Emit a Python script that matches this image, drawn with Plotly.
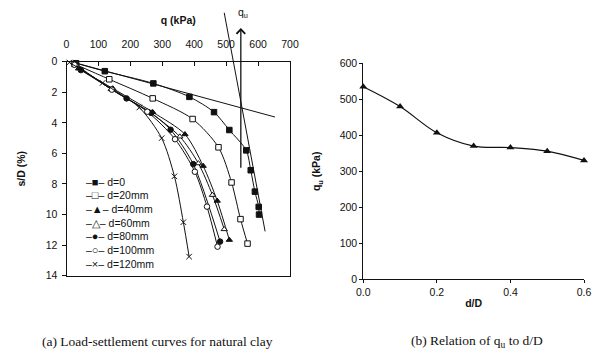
import plotly.graph_objects as go

W, H = 598, 358

# ---------------- (a) load-settlement data: q (kPa) vs s/D (%) ----------------
q_d0 = [30, 120, 272, 385, 462, 510, 563, 577, 590, 602, 603]
s_d0 = [0.1, 0.62, 1.42, 2.3, 3.3, 4.47, 5.8, 7.1, 8.5, 9.5, 10.0]
q_d20 = [25, 134, 270, 395, 476, 517, 545, 567]
s_d20 = [0.15, 1.15, 2.4, 3.75, 5.6, 7.9, 10.3, 11.9]
q_d40 = [38, 145, 270, 371, 428, 472, 510]
s_d40 = [0.45, 1.75, 3.3, 4.75, 6.82, 9.1, 11.66]
q_d60 = [30, 140, 260, 355, 413, 457, 494]
s_d60 = [0.2, 1.8, 3.3, 4.9, 6.65, 8.72, 10.96]
q_d80 = [45, 188, 265, 326, 397, 481]
s_d80 = [0.55, 2.4, 3.35, 4.45, 6.7, 11.77]
q_d100 = [25, 142, 253, 340, 402, 440, 473]
s_d100 = [0.2, 1.83, 3.27, 5.07, 7.2, 9.48, 12.1]
q_d120 = [9, 113, 228, 298, 338, 366, 384]
s_d120 = [0.05, 1.39, 3.0, 5.0, 7.5, 10.5, 12.75]

series_names = ["d=0", "d=20mm", "d=40mm", "d=60mm", "d=80mm", "d=100mm", "d=120mm"]
legend_glyphs = ["■", "□", "▲", "△", "●", "○", "×"]

# construction lines for q_u (tangent method)
tan1_q = [32, 653]
tan1_s = [0.1, 3.62]
tan2_q = [494, 622]
tan2_s = [-3.2, 11.1]
qu_q = 546
qu_s_from = 7.04
qu_s_to = -2.2
qu_label_s = -2.6

x_ticks_a = [0, 100, 200, 300, 400, 500, 600, 700]
y_ticks_a = [0, 2, 4, 6, 8, 10, 12, 14]

# ---------------- (b) q_u vs d/D ----------------
dD = [0.0, 0.1, 0.2, 0.3, 0.4, 0.5, 0.6]
qu = [535, 480, 407, 370, 366, 356, 330]
x_ticks_b = [0.0, 0.2, 0.4, 0.6]
y_ticks_b = [0, 100, 200, 300, 400, 500, 600]

caption_a = "(a) Load-settlement curves for natural clay"
caption_b = "(b) Relation of q<sub>u</sub> to d/D"

# ---------------- layout geometry (pixels -> paper) ----------------
def px_x(p):
    return p / W

def px_y(p):
    return 1 - p / H

ax_a_x = [px_x(66.5), px_x(290)]
ax_a_y = [px_y(275.7), px_y(61.7)]
ax_b_x = [px_x(363.3), px_x(584)]
ax_b_y = [px_y(279.3), px_y(63.3)]

INK = "#111111"
SANS = "Liberation Sans, Arial, sans-serif"
SERIF = "Liberation Serif, Times New Roman, serif"

fig = go.Figure()

symbols = ["square", "square", "triangle-up", "triangle-up",
           "circle", "circle", "x-thin-open"]
fills = [INK, "white", INK, "white", INK, "white", INK]
data_a = [(q_d0, s_d0), (q_d20, s_d20), (q_d40, s_d40), (q_d60, s_d60),
          (q_d80, s_d80), (q_d100, s_d100), (q_d120, s_d120)]

for (qq, ss), name, sym, fc in zip(data_a, series_names, symbols, fills):
    fig.add_trace(go.Scatter(
        x=qq, y=ss, name=name, mode="lines+markers",
        line=dict(color=INK, width=1, shape="spline", smoothing=0.8),
        marker=dict(symbol=sym, size=5.5, color=fc,
                    line=dict(color=INK, width=1)),
        xaxis="x", yaxis="y", showlegend=False, cliponaxis=False,
    ))

# construction lines on an overlay subplot that extends above the plot box
fig.add_trace(go.Scatter(x=tan1_q, y=tan1_s, mode="lines", line=dict(color=INK, width=1),
                         xaxis="x3", yaxis="y3", showlegend=False))
fig.add_trace(go.Scatter(x=tan2_q, y=tan2_s, mode="lines", line=dict(color=INK, width=1),
                         xaxis="x3", yaxis="y3", showlegend=False))

# (b)
fig.add_trace(go.Scatter(
    x=dD, y=qu, mode="lines+markers",
    line=dict(color=INK, width=1.2, shape="spline", smoothing=1),
    marker=dict(symbol="triangle-up", size=7, color=INK),
    xaxis="x2", yaxis="y2", showlegend=False, cliponaxis=False,
))

tickfont = dict(family=SANS, size=10.5, color=INK)
titlefont = dict(family=SANS, size=10.5, color=INK)

# overlay range so that scale matches the (a) y-axis
ov_bottom = ax_a_y[0]
ov_top = 1.0
s_top = 14 - 14 * (ov_top - ov_bottom) / (ax_a_y[1] - ax_a_y[0])

annotations = []
# q_u arrow
annotations.append(dict(x=qu_q, y=qu_s_to, ax=qu_q, ay=qu_s_from, xref="x3", yref="y3",
                        axref="x3", ayref="y3", showarrow=True, arrowhead=4, arrowsize=1.3,
                        arrowwidth=1.3, arrowcolor=INK, text=""))
annotations.append(dict(x=qu_q, y=qu_label_s, xref="x3", yref="y3", showarrow=False,
                        text="q<sub>u</sub>", font=dict(family=SANS, size=10.5, color=INK),
                        xanchor="center", xshift=2, yanchor="bottom"))
# legend rows (text)
leg_x = px_x(84)
for i, (name, g) in enumerate(zip(series_names, legend_glyphs)):
    annotations.append(dict(
        x=leg_x, y=px_y(181.7 + 13.67 * i), xref="paper", yref="paper",
        xanchor="left", yanchor="middle", showarrow=False,
        text="\u2013<span style='font-size:11px'>" + g + "</span>\u2013 " + name,
        font=dict(family=SANS, size=10.5, color=INK),
    ))
# captions
annotations.append(dict(x=px_x(40), y=px_y(341), xref="paper", yref="paper", showarrow=False,
                        text=caption_a, font=dict(family=SERIF, size=13.5, color=INK),
                        xanchor="left", yanchor="middle"))
annotations.append(dict(x=px_x(477), y=px_y(341), xref="paper", yref="paper", showarrow=False,
                        text=caption_b, font=dict(family=SERIF, size=13.5, color=INK),
                        xanchor="center", yanchor="middle"))

fig.update_layout(
    width=W, height=H,
    margin=dict(l=0, r=0, t=0, b=0, autoexpand=False),
    paper_bgcolor="white", plot_bgcolor="rgba(0,0,0,0)",
    showlegend=False,
    font=dict(family=SANS, color=INK),
    xaxis=dict(domain=ax_a_x, anchor="y", side="top", range=[0, 700], tickvals=x_ticks_a,
               automargin=False,
               showgrid=False, zeroline=False, showline=True, linecolor=INK, linewidth=1,
               mirror=True, ticks="inside", ticklen=4, tickcolor=INK, tickfont=tickfont,
               ticklabelstandoff=9,
               title=dict(text="<b>q (kPa)</b>", font=titlefont, standoff=10)),
    yaxis=dict(domain=ax_a_y, anchor="x", range=[14, 0], tickvals=y_ticks_a,
               automargin=False,
               showgrid=False, zeroline=False, showline=True, linecolor=INK, linewidth=1,
               mirror=True, ticks="outside", ticklen=4, tickcolor=INK, tickfont=tickfont,
               ticklabelstandoff=2,
               title=dict(text="<b>s/D (%)</b>", font=titlefont, standoff=18)),
    xaxis3=dict(domain=ax_a_x, anchor="y3", range=[0, 700], visible=False, automargin=False),
    yaxis3=dict(domain=[ov_bottom, ov_top], anchor="x3", range=[14, s_top], visible=False,
                automargin=False),
    xaxis2=dict(domain=ax_b_x, anchor="y2", range=[0, 0.6], tickvals=x_ticks_b, tickformat=".1f",
                automargin=False,
                showgrid=False, zeroline=False, showline=True, linecolor=INK, linewidth=1,
                ticks="outside", ticklen=3, tickcolor=INK, tickfont=tickfont,
                ticklabelstandoff=0,
                title=dict(text="<b>d/D</b>", font=titlefont, standoff=2)),
    yaxis2=dict(domain=ax_b_y, anchor="x2", range=[0, 600], tickvals=y_ticks_b,
                automargin=False,
                showgrid=False, zeroline=False, showline=True, linecolor=INK, linewidth=1,
                ticks="outside", ticklen=3, tickcolor=INK, tickfont=tickfont,
                title=dict(text="<b>q<sub>u</sub> (kPa)</b>", font=titlefont, standoff=16)),
    annotations=annotations,
)

fig.write_html("out.html", config={"displayModeBar": False},
               post_script="document.body.style.margin='0';")
